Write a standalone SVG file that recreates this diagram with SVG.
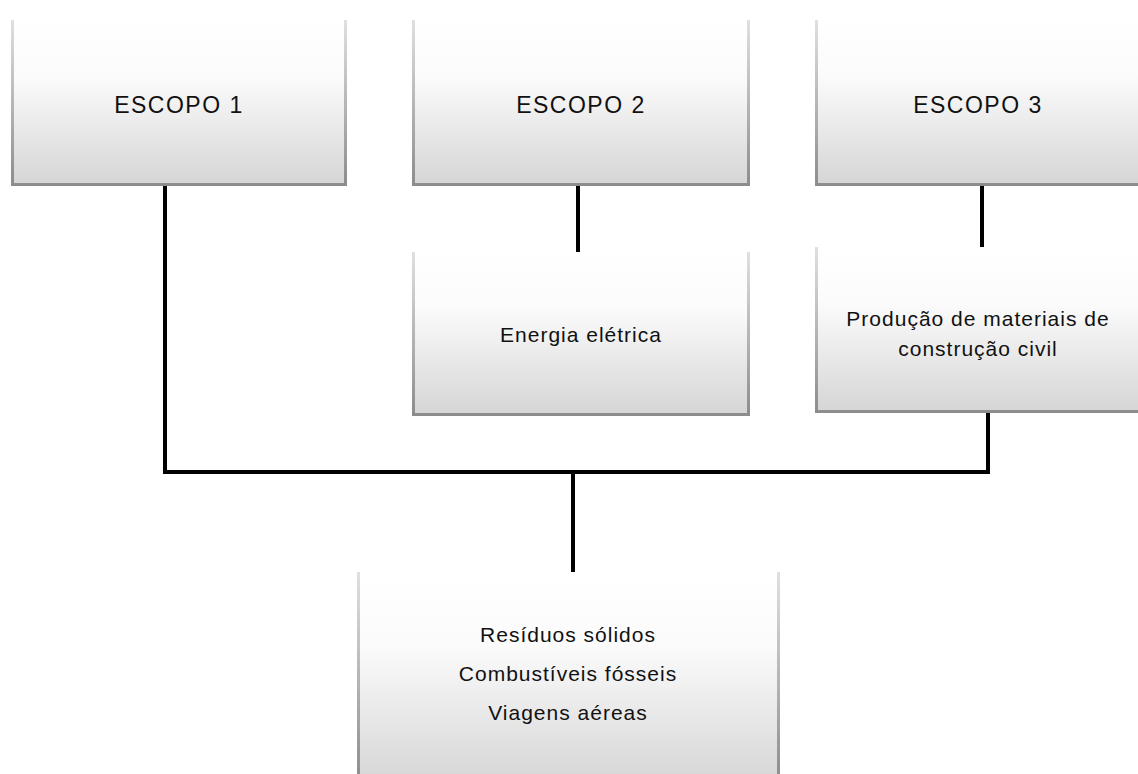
<svg xmlns="http://www.w3.org/2000/svg" width="1138" height="774" viewBox="0 0 1138 774">
<defs>
<linearGradient id="g" x1="0" y1="0" x2="0" y2="1">
<stop offset="0" stop-color="#ffffff"/>
<stop offset="0.35" stop-color="#fbfbfb"/>
<stop offset="1" stop-color="#d6d6d6"/>
</linearGradient>
<linearGradient id="edge" x1="0" y1="0" x2="0" y2="1">
<stop offset="0" stop-color="#e0e0e0"/>
<stop offset="1" stop-color="#8c8c8c"/>
</linearGradient>
</defs>
<style>
.sh{fill:url(#edge);}
.bx{fill:url(#g);}
.t{font-family:"Liberation Sans",Arial,sans-serif;fill:#111;text-anchor:middle;}
.big{font-size:23px;letter-spacing:1.5px;}
.sm{font-size:21px;letter-spacing:1px;}
.c{stroke:#000;stroke-width:4;fill:none;}
</style>
<g id="connectors">
<path class="c" d="M165 186 V472 H988 V413"/>
<path class="c" d="M573 472 V573"/>
<path class="c" d="M578 185 V252"/>
<path class="c" d="M982 185 V247"/>
</g>
<g id="escopo1">
<rect class="sh" x="11" y="20" width="336" height="166"/>
<rect class="bx" x="14" y="20" width="330" height="163"/>
<text class="t big" x="179" y="113">ESCOPO 1</text>
</g>
<g id="escopo2">
<rect class="sh" x="412" y="20" width="338" height="166"/>
<rect class="bx" x="415" y="20" width="332" height="163"/>
<text class="t big" x="581" y="113">ESCOPO 2</text>
</g>
<g id="escopo3">
<rect class="sh" x="815" y="20" width="330" height="166"/>
<rect class="bx" x="818" y="20" width="324" height="163"/>
<text class="t big" x="978" y="113">ESCOPO 3</text>
</g>
<g id="energia">
<rect class="sh" x="412" y="252" width="338" height="164"/>
<rect class="bx" x="415" y="252" width="332" height="161"/>
<text class="t sm" x="581" y="342">Energia elétrica</text>
</g>
<g id="producao">
<rect class="sh" x="815" y="247" width="330" height="166"/>
<rect class="bx" x="818" y="247" width="324" height="163"/>
<text class="t sm" x="978" y="326">Produção de materiais de</text>
<text class="t sm" x="978" y="356">construção civil</text>
</g>
<g id="fontes">
<rect class="sh" x="357" y="572" width="423" height="210"/>
<rect class="bx" x="360" y="572" width="417" height="210"/>
<text class="t sm" x="568" y="642">Resíduos sólidos</text>
<text class="t sm" x="568" y="681">Combustíveis fósseis</text>
<text class="t sm" x="568" y="720">Viagens aéreas</text>
</g>
</svg>
